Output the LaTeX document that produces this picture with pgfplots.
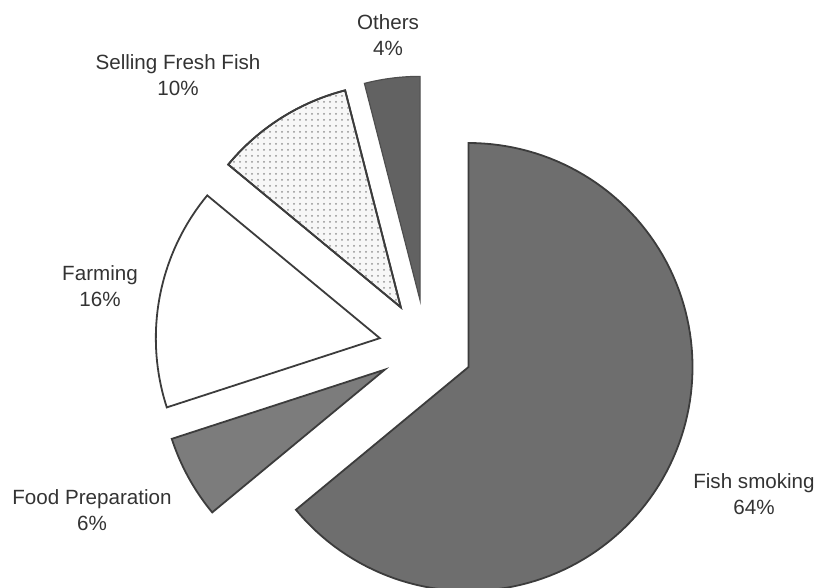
\documentclass[border=0pt]{standalone}
\usepackage{pgfplots}
\pgfplotsset{compat=1.18}
\usepackage{fontspec}
\setmainfont{Liberation Sans}
\usetikzlibrary{patterns}
\definecolor{smoke}{HTML}{6E6E6E}
\definecolor{others}{HTML}{626262}
\definecolor{food}{HTML}{7C7C7C}
\definecolor{edge}{HTML}{3C3C3C}
\definecolor{txt}{HTML}{333333}
\begin{document}
\begin{tikzpicture}
\begin{axis}[
  scale only axis, width=410pt, height=294pt,
  xmin=-426, xmax=394, ymin=-241, ymax=347,
  hide axis, clip=false,
]
\useasboundingbox (rel axis cs:0,0) rectangle (rel axis cs:1,1);
% shares: Fish smoking 64, Food Preparation 6, Farming 16, Selling Fresh Fish 10, Others 4
% angles start at 90 deg and run clockwise, 3.6 deg per percent; slices exploded by 47
% Fish smoking 64%: -140.4 .. 90
\addplot[draw=edge, line width=0.9pt, fill=smoke, domain=-140.4:90, samples=120]
  ({42.53+224*cos(x)},{-20.01+224*sin(x)}) -- (axis cs:42.53,-20.01) -- cycle;
% Food Preparation 6%: 198 .. 219.6
\addplot[draw=edge, line width=0.9pt, fill=food, domain=198:219.6, samples=20]
  ({-41.19+224*cos(x)},{-22.64+224*sin(x)}) -- (axis cs:-41.19,-22.64) -- cycle;
% Farming 16%: 140.4 .. 198
\addplot[draw=edge, line width=0.9pt, fill=white, domain=140.4:198, samples=40]
  ({-46.17+224*cos(x)},{8.81+224*sin(x)}) -- (axis cs:-46.17,8.81) -- cycle;
% Selling Fresh Fish 10%: 104.4 .. 140.4
\addplot[draw=edge, line width=0.9pt, fill=gray!6, postaction={pattern=dots, pattern color=gray!85}, domain=104.4:140.4, samples=30]
  ({-25.18+224*cos(x)},{39.68+224*sin(x)}) -- (axis cs:-25.18,39.68) -- cycle;
% Others 4%: 90 .. 104.4
\addplot[draw=others!80!black, line width=0.6pt, fill=others, domain=90:104.4, samples=12]
  ({-5.89+224*cos(x)},{46.63+224*sin(x)}) -- (axis cs:-5.89,46.63) -- cycle;

\tikzset{lbl/.style={align=center, text=txt, font=\fontsize{10.3}{13.3}\selectfont, inner sep=0pt}}
\node[lbl] at (axis cs:-38,312) {Others\\4\%};
\node[lbl] at (axis cs:-248,272) {Selling Fresh Fish\\10\%};
\node[lbl] at (axis cs:-326,61) {Farming\\16\%};
\node[lbl] at (axis cs:-334,-163) {Food Preparation\\6\%};
\node[lbl] at (axis cs:328,-147) {Fish smoking\\64\%};
\end{axis}
\end{tikzpicture}
\end{document}
